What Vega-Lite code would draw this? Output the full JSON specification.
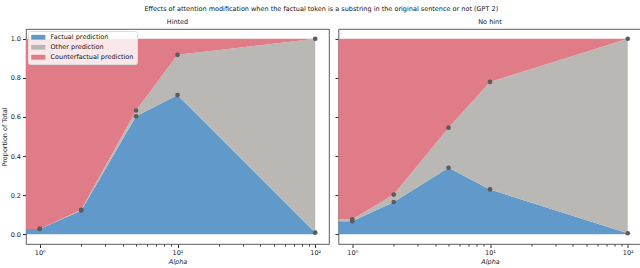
{
  "$schema": "https://vega.github.io/schema/vega-lite/v6.json",
  "padding": {"left": 0, "top": 5, "right": 0, "bottom": 0},
  "background": "white",
  "title": {"text": "Effects of attention modification when the factual token is a substring in the original sentence or not (GPT 2)", "fontSize": 6.5, "fontWeight": "normal", "font": "DejaVu Sans", "color": "#111", "anchor": "middle", "offset": 6},
  "config": {
    "font": "DejaVu Sans",
    "view": {"stroke": "#333", "strokeWidth": 0.8},
    "axis": {"grid": false, "labelFontSize": 6.5, "titleFontSize": 6.5, "titleFontWeight": "normal", "labelColor": "#222", "titleColor": "#222", "tickColor": "#333", "domain": false, "labelPadding": 2},
    "title": {"fontSize": 6.5, "fontWeight": "normal", "color": "#111", "offset": 4},
    "concat": {"spacing": 3.5}
  },
  "data": {"values": [
    {"panel": "Hinted", "alpha": 0.5, "category": "Factual prediction", "order": 1, "value": 0.027},
    {"panel": "Hinted", "alpha": 0.5, "category": "Other prediction", "order": 2, "value": 0.0},
    {"panel": "Hinted", "alpha": 0.5, "category": "Counterfactual prediction", "order": 3, "value": 0.973},
    {"panel": "Hinted", "alpha": 1, "category": "Factual prediction", "order": 1, "value": 0.027},
    {"panel": "Hinted", "alpha": 1, "category": "Other prediction", "order": 2, "value": 0.0},
    {"panel": "Hinted", "alpha": 1, "category": "Counterfactual prediction", "order": 3, "value": 0.973},
    {"panel": "Hinted", "alpha": 2, "category": "Factual prediction", "order": 1, "value": 0.122},
    {"panel": "Hinted", "alpha": 2, "category": "Other prediction", "order": 2, "value": 0.003},
    {"panel": "Hinted", "alpha": 2, "category": "Counterfactual prediction", "order": 3, "value": 0.875},
    {"panel": "Hinted", "alpha": 5, "category": "Factual prediction", "order": 1, "value": 0.603},
    {"panel": "Hinted", "alpha": 5, "category": "Other prediction", "order": 2, "value": 0.03},
    {"panel": "Hinted", "alpha": 5, "category": "Counterfactual prediction", "order": 3, "value": 0.367},
    {"panel": "Hinted", "alpha": 10, "category": "Factual prediction", "order": 1, "value": 0.712},
    {"panel": "Hinted", "alpha": 10, "category": "Other prediction", "order": 2, "value": 0.206},
    {"panel": "Hinted", "alpha": 10, "category": "Counterfactual prediction", "order": 3, "value": 0.082},
    {"panel": "Hinted", "alpha": 100, "category": "Factual prediction", "order": 1, "value": 0.008},
    {"panel": "Hinted", "alpha": 100, "category": "Other prediction", "order": 2, "value": 0.992},
    {"panel": "Hinted", "alpha": 100, "category": "Counterfactual prediction", "order": 3, "value": 0.0},
    {"panel": "No hint", "alpha": 0.5, "category": "Factual prediction", "order": 1, "value": 0.066},
    {"panel": "No hint", "alpha": 0.5, "category": "Other prediction", "order": 2, "value": 0.01},
    {"panel": "No hint", "alpha": 0.5, "category": "Counterfactual prediction", "order": 3, "value": 0.924},
    {"panel": "No hint", "alpha": 1, "category": "Factual prediction", "order": 1, "value": 0.066},
    {"panel": "No hint", "alpha": 1, "category": "Other prediction", "order": 2, "value": 0.01},
    {"panel": "No hint", "alpha": 1, "category": "Counterfactual prediction", "order": 3, "value": 0.924},
    {"panel": "No hint", "alpha": 2, "category": "Factual prediction", "order": 1, "value": 0.165},
    {"panel": "No hint", "alpha": 2, "category": "Other prediction", "order": 2, "value": 0.038},
    {"panel": "No hint", "alpha": 2, "category": "Counterfactual prediction", "order": 3, "value": 0.797},
    {"panel": "No hint", "alpha": 5, "category": "Factual prediction", "order": 1, "value": 0.34},
    {"panel": "No hint", "alpha": 5, "category": "Other prediction", "order": 2, "value": 0.205},
    {"panel": "No hint", "alpha": 5, "category": "Counterfactual prediction", "order": 3, "value": 0.455},
    {"panel": "No hint", "alpha": 10, "category": "Factual prediction", "order": 1, "value": 0.229},
    {"panel": "No hint", "alpha": 10, "category": "Other prediction", "order": 2, "value": 0.55},
    {"panel": "No hint", "alpha": 10, "category": "Counterfactual prediction", "order": 3, "value": 0.221},
    {"panel": "No hint", "alpha": 100, "category": "Factual prediction", "order": 1, "value": 0.005},
    {"panel": "No hint", "alpha": 100, "category": "Other prediction", "order": 2, "value": 0.995},
    {"panel": "No hint", "alpha": 100, "category": "Counterfactual prediction", "order": 3, "value": 0.0}
  ]},
  "resolve": {"legend": {"color": "independent"}},
  "hconcat": [
    {
      "title": "Hinted",
      "width": 303,
      "height": 215,
      "transform": [{"filter": "datum.panel == 'Hinted'"}],
      "layer": [
        {
          "mark": {"type": "area", "clip": true},
          "encoding": {
            "x": {"field": "alpha", "type": "quantitative", "scale": {"type": "log", "domain": [0.7943, 125.89], "nice": false}, "axis": {"title": "Alpha", "titleFontStyle": "italic", "titleColor": "#222", "values": [1,2,3,4,5,6,7,8,9,10,20,30,40,50,60,70,80,90,100], "labelExpr": "datum.value == 1 ? '10⁰' : datum.value == 10 ? '10¹' : datum.value == 100 ? '10²' : ''", "labelOverlap": false, "labelFlush": false, "tickSize": {"condition": {"test": "datum.value == 1 || datum.value == 10 || datum.value == 100", "value": 3.5}, "value": 2}, "titlePadding": 2}},
            "y": {"field": "value", "type": "quantitative", "stack": "zero", "scale": {"domain": [-0.05, 1.05], "nice": false, "zero": false}, "axis": {"title": "Proportion of Total", "values": [0, 0.2, 0.4, 0.6, 0.8, 1.0], "format": ".1f", "tickSize": 3.5, "titlePadding": 3}},
            "color": {"field": "category", "type": "nominal", "scale": {"domain": ["Factual prediction", "Other prediction", "Counterfactual prediction"], "range": ["#6299cb", "#b9b8b5", "#e07c87"]}, "legend": {"title": null, "orient": "top-left", "offset": 2, "fillColor": "rgba(255,255,255,0.82)", "strokeColor": "#ddd", "padding": 3, "cornerRadius": 2, "labelFontSize": 6.5, "labelColor": "#111", "symbolType": "M-1,-0.8H3.7V0.8H-1Z", "symbolSize": 36, "symbolStrokeWidth": 0, "symbolOpacity": 1, "rowPadding": 3, "labelOffset": 13}},
            "order": {"field": "order", "type": "quantitative"}
          }
        },
        {
          "transform": [{"filter": "datum.category != 'Counterfactual prediction' && datum.alpha >= 1"}],
          "mark": {"type": "point", "filled": true, "color": "#5c5c5c", "size": 22, "opacity": 1},
          "encoding": {
            "x": {"field": "alpha", "type": "quantitative"},
            "y": {"field": "value", "type": "quantitative", "stack": "zero"},
            "detail": {"field": "category"},
            "order": {"field": "order", "type": "quantitative"}
          }
        }
      ]
    },
    {
      "title": "No hint",
      "width": 303,
      "height": 215,
      "transform": [{"filter": "datum.panel == 'No hint'"}],
      "layer": [
        {
          "mark": {"type": "area", "clip": true},
          "encoding": {
            "x": {"field": "alpha", "type": "quantitative", "scale": {"type": "log", "domain": [0.7943, 125.89], "nice": false}, "axis": {"title": "Alpha", "titleFontStyle": "italic", "titleColor": "#222", "values": [1,2,3,4,5,6,7,8,9,10,20,30,40,50,60,70,80,90,100], "labelExpr": "datum.value == 1 ? '10⁰' : datum.value == 10 ? '10¹' : datum.value == 100 ? '10²' : ''", "labelOverlap": false, "labelFlush": false, "tickSize": {"condition": {"test": "datum.value == 1 || datum.value == 10 || datum.value == 100", "value": 3.5}, "value": 2}, "titlePadding": 2}},
            "y": {"field": "value", "type": "quantitative", "stack": "zero", "scale": {"domain": [-0.05, 1.05], "nice": false, "zero": false}, "axis": {"title": null, "values": [0, 0.2, 0.4, 0.6, 0.8, 1.0], "labels": false, "tickSize": 3.5}},
            "color": {"field": "category", "type": "nominal", "scale": {"domain": ["Factual prediction", "Other prediction", "Counterfactual prediction"], "range": ["#6299cb", "#b9b8b5", "#e07c87"]}, "legend": null},
            "order": {"field": "order", "type": "quantitative"}
          }
        },
        {
          "transform": [{"filter": "datum.category != 'Counterfactual prediction' && datum.alpha >= 1"}],
          "mark": {"type": "point", "filled": true, "color": "#5c5c5c", "size": 22, "opacity": 1},
          "encoding": {
            "x": {"field": "alpha", "type": "quantitative"},
            "y": {"field": "value", "type": "quantitative", "stack": "zero"},
            "detail": {"field": "category"},
            "order": {"field": "order", "type": "quantitative"}
          }
        }
      ]
    }
  ]
}
